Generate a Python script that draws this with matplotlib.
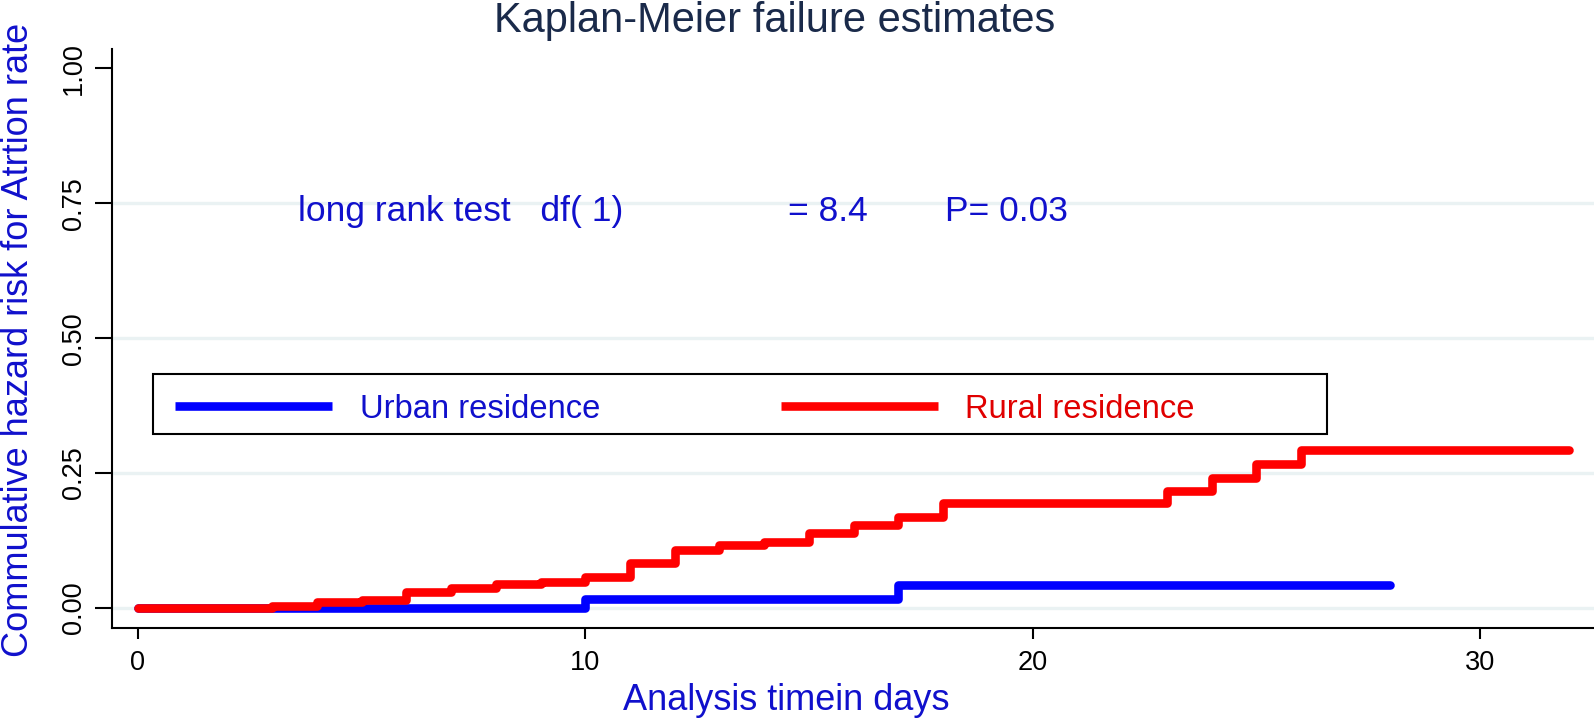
import matplotlib
matplotlib.use("Agg")
import matplotlib.pyplot as plt
from matplotlib.patches import Rectangle

plt.rcParams['font.family'] = ['Liberation Sans', 'DejaVu Sans']

# Data
urban_days = [0, 10, 17, 28]
urban_fail = [0.0, 0.016, 0.042, 0.042]
rural_days = [0, 3, 4, 5, 6, 7, 8, 9, 10, 11, 12, 13, 14, 15, 16, 17, 18, 23, 24, 25, 26, 32]
rural_fail = [0.0, 0.004, 0.011, 0.015, 0.029, 0.037, 0.044, 0.048, 0.057, 0.084, 0.108,
              0.116, 0.122, 0.139, 0.154, 0.169, 0.194, 0.217, 0.241, 0.266, 0.292, 0.292]
series_labels = ["Urban residence", "Rural residence"]
x_ticks = [0, 10, 20, 30]
y_ticks = [0.00, 0.25, 0.50, 0.75, 1.00]
y_ticklabels = ["0.00", "0.25", "0.50", "0.75", "1.00"]
grid_vals = [0.00, 0.25, 0.50, 0.75]
title = "Kaplan-Meier failure estimates"
xlabel = "Analysis timein days"
ylabel = "Commulative hazard risk for Atrtion rate"

W, H = 1594, 726
fig = plt.figure(figsize=(W / 100, H / 100), dpi=100)
ax_l, ax_r, ax_t, ax_b = 112, 1594, 49.5, 628
ax = fig.add_axes([ax_l / W, 1 - ax_b / H, (ax_r - ax_l) / W, (ax_b - ax_t) / H])

TXT_BLUE = '#1010CC'

for g in grid_vals:
    ax.axhline(g, color='#EAF2F3', lw=2.4, zorder=1)

blue_line, = ax.step(urban_days, urban_fail, where='post', color='#0000FF', lw=6.2,
                     solid_capstyle='round', solid_joinstyle='round', zorder=3,
                     label=series_labels[0])
red_line, = ax.step(rural_days, rural_fail, where='post', color='#FF0000', lw=6.2,
                    solid_capstyle='round', solid_joinstyle='round', zorder=4,
                    label=series_labels[1])

ax.set_xlim(-0.58, 32.55)
ax.set_ylim(-0.037, 1.035)
ax.set_xticks(x_ticks)
ax.set_yticks(y_ticks)
ax.set_yticklabels(y_ticklabels)
for s in ['top', 'right']:
    ax.spines[s].set_visible(False)
for s in ['left', 'bottom']:
    ax.spines[s].set_linewidth(1.5)
    ax.spines[s].set_color('black')

ax.tick_params(axis='y', length=12, width=1.5, labelsize=19.5, pad=6, labelrotation=90)
ax.tick_params(axis='x', length=8, width=1.5, labelsize=19.5, pad=8)
for lbl in ax.get_yticklabels():
    lbl.set_va('center')

ax.set_title(title, fontsize=30, color='#1A2A4A', x=(775 - ax_l) / (ax_r - ax_l),
             y=(ax_b - 21) / (ax_b - ax_t), va='center', pad=0)
ax.set_xlabel(xlabel, fontsize=26, color=TXT_BLUE)
ax.xaxis.set_label_coords((786 - ax_l) / (ax_r - ax_l), (ax_b - 701) / (ax_b - ax_t))
ax.xaxis.label.set_va('center')
ax.set_ylabel(ylabel, fontsize=26, color=TXT_BLUE)
ax.yaxis.set_label_coords((19 - ax_l) / (ax_r - ax_l), (ax_b - 340) / (ax_b - ax_t))
ax.yaxis.label.set_va('center')

# annotation
ax.text(3.58, 0.734, "long rank test   df( 1)", fontsize=25.5, color=TXT_BLUE, va='center', ha='left')
ax.text(14.53, 0.734, "= 8.4", fontsize=25.5, color=TXT_BLUE, va='center', ha='left')
ax.text(18.04, 0.734, "P= 0.03", fontsize=25.5, color=TXT_BLUE, va='center', ha='left')

# legend box
fig.patches.append(Rectangle((152.5 / W, 1 - 434 / H), (1326.7 - 152.5) / W, 60 / H,
                             transform=fig.transFigure, fill=False, edgecolor='black',
                             lw=1.5, zorder=5))
leg = ax.legend(handles=[blue_line, red_line], loc='center left',
                bbox_to_anchor=(175 / W, 1 - 409 / H), bbox_transform=fig.transFigure,
                ncol=2, frameon=False, fontsize=23.6, handlelength=4.79,
                handletextpad=0.85, columnspacing=5.5, borderpad=0, borderaxespad=0)
for t, c in zip(leg.get_texts(), [TXT_BLUE, '#E00000']):
    t.set_color(c)
for lh in leg.get_lines():
    lh.set_solid_capstyle('butt')

fig.savefig('out.png', dpi=100)
